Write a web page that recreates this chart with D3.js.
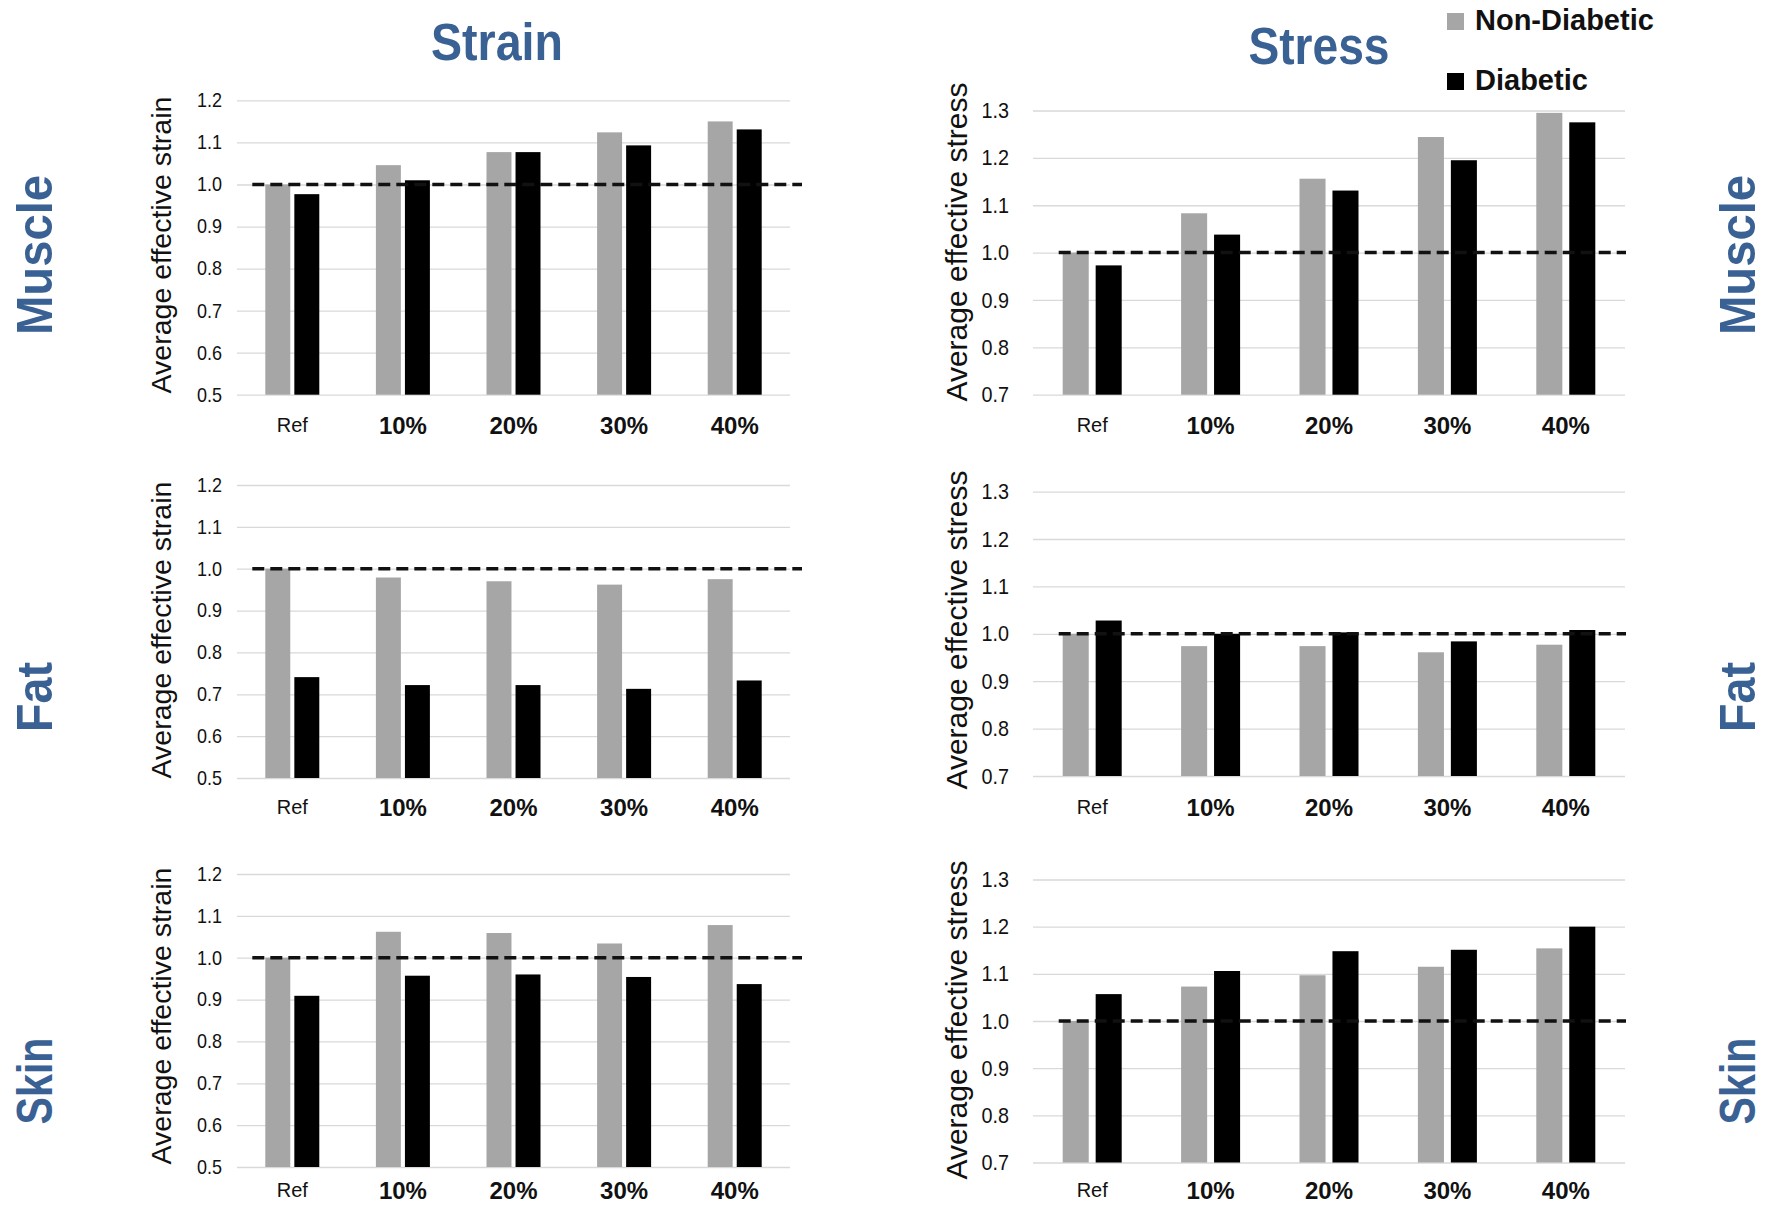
<!DOCTYPE html>
<html>
<head>
<meta charset="utf-8">
<script src="https://cdn.jsdelivr.net/npm/d3@7"></script>
<style>
  html, body { margin: 0; padding: 0; background: #fff; }
  svg { display: block; }
</style>
</head>
<body>
<svg id="chart" width="1768" height="1206"></svg>
<script>
// ---- data ----
const categories = ["Ref", "10%", "20%", "30%", "40%"];
const seriesNames = ["Non-Diabetic", "Diabetic"];
const tissues = ["Muscle", "Fat", "Skin"];
const measures = ["Strain", "Stress"];

const strainMuscleNonDiabetic = [1.000, 1.046, 1.077, 1.124, 1.150];
const strainMuscleDiabetic    = [0.977, 1.010, 1.077, 1.093, 1.131];
const strainFatNonDiabetic    = [1.000, 0.979, 0.970, 0.962, 0.975];
const strainFatDiabetic       = [0.741, 0.722, 0.722, 0.713, 0.733];
const strainSkinNonDiabetic   = [1.000, 1.062, 1.059, 1.034, 1.078];
const strainSkinDiabetic      = [0.909, 0.957, 0.960, 0.954, 0.937];

const stressMuscleNonDiabetic = [1.000, 1.083, 1.156, 1.244, 1.295];
const stressMuscleDiabetic    = [0.973, 1.038, 1.131, 1.195, 1.275];
const stressFatNonDiabetic    = [1.000, 0.974, 0.974, 0.961, 0.977];
const stressFatDiabetic       = [1.028, 1.000, 1.003, 0.984, 1.008];
const stressSkinNonDiabetic   = [1.000, 1.073, 1.097, 1.115, 1.154];
const stressSkinDiabetic      = [1.057, 1.106, 1.148, 1.151, 1.200];

const strainTicks = [0.5, 0.6, 0.7, 0.8, 0.9, 1.0, 1.1, 1.2];
const stressTicks = [0.7, 0.8, 0.9, 1.0, 1.1, 1.2, 1.3];
const referenceLevel = 1.0;

// ---- styling / layout ----
const titleBlue = "#3a6194";
const barColors = ["#a6a6a6", "#000000"];
const gridColor = "#d9d9d9";
const tickFont = "'Liberation Sans', Arial, sans-serif";
const headFont = "'Liberation Sans', Arial, sans-serif";

const columns = [
  {
    measure: "Strain", ticks: strainTicks, axisTitle: "Average effective strain",
    x0: 237, x1: 790, pairWidth: 54, innerPad: 0.14,
    dashLead: 13, dashTail: 12,
    tickLabelRight: 222, tickSize: 20, titleX: 161, titleSize: 28.5,
    rows: [
      { nd: strainMuscleNonDiabetic, d: strainMuscleDiabetic, top: 100.4, bottom: 394.7, catY: 425, titleY: 245 },
      { nd: strainFatNonDiabetic,    d: strainFatDiabetic,    top: 485,   bottom: 778,   catY: 807, titleY: 630 },
      { nd: strainSkinNonDiabetic,   d: strainSkinDiabetic,   top: 874,   bottom: 1167,  catY: 1190, titleY: 1016 }
    ]
  },
  {
    measure: "Stress", ticks: stressTicks, axisTitle: "Average effective stress",
    x0: 1033, x1: 1625, pairWidth: 59, innerPad: 0.21,
    dashLead: 4, dashTail: 1,
    tickLabelRight: 1009, tickSize: 22, titleX: 956, titleSize: 30,
    rows: [
      { nd: stressMuscleNonDiabetic, d: stressMuscleDiabetic, top: 110.5, bottom: 394.7, catY: 425, titleY: 242 },
      { nd: stressFatNonDiabetic,    d: stressFatDiabetic,    top: 491.6, bottom: 776,   catY: 807, titleY: 630 },
      { nd: stressSkinNonDiabetic,   d: stressSkinDiabetic,   top: 879.5, bottom: 1162.5, catY: 1190, titleY: 1020 }
    ]
  }
];

const svg = d3.select("#chart");

columns.forEach(col => {
  const n = categories.length;
  const step = (col.x1 - col.x0) / n;
  const pIn = 1 - col.pairWidth / step;
  const x = d3.scaleBand().domain(categories).range([col.x0, col.x1])
    .paddingInner(pIn).paddingOuter(pIn / 2);
  const xs = d3.scaleBand().domain(seriesNames).range([0, x.bandwidth()])
    .paddingInner(col.innerPad);

  col.rows.forEach(row => {
    const yMin = col.ticks[0], yMax = col.ticks[col.ticks.length - 1];
    const y = d3.scaleLinear().domain([yMin, yMax]).range([row.bottom, row.top]);
    const g = svg.append("g");

    // horizontal gridlines
    const grid = g.append("g")
      .attr("transform", `translate(${col.x0},0)`)
      .call(d3.axisLeft(y).tickValues(col.ticks).tickSize(-(col.x1 - col.x0)).tickFormat(""));
    grid.select(".domain").remove();
    grid.selectAll("line").attr("stroke", gridColor).attr("stroke-width", 1.3);

    // y tick labels, slightly condensed
    const yAxis = g.append("g")
      .attr("transform", `translate(${col.tickLabelRight},0)`)
      .call(d3.axisLeft(y).tickValues(col.ticks).tickSize(0).tickPadding(0).tickFormat(d3.format(".1f")));
    yAxis.select(".domain").remove();
    yAxis.selectAll("text")
      .attr("font-family", tickFont)
      .attr("font-size", col.tickSize)
      .attr("fill", "#111")
      .attr("transform", "scale(0.9,1)");

    // category labels
    const xAxis = g.append("g")
      .attr("transform", `translate(0,${row.bottom})`)
      .call(d3.axisBottom(x).tickSize(0));
    xAxis.select(".domain").remove();
    xAxis.selectAll("text")
      .attr("y", row.catY - row.bottom)
      .attr("dy", "0.36em")
      .attr("font-family", tickFont)
      .attr("font-size", d => d === "Ref" ? 20 : 24)
      .attr("font-weight", d => d === "Ref" ? "normal" : "bold")
      .attr("fill", "#111");

    // bars
    const data = categories.map((c, i) => ({ cat: c, values: [row.nd[i], row.d[i]] }));
    g.append("g").selectAll("g")
      .data(data).join("g")
      .attr("transform", d => `translate(${x(d.cat)},0)`)
      .selectAll("rect")
      .data(d => d.values.map((v, k) => ({ series: seriesNames[k], value: v, k })))
      .join("rect")
      .attr("x", d => xs(d.series))
      .attr("width", xs.bandwidth())
      .attr("y", d => y(d.value))
      .attr("height", d => y(yMin) - y(d.value))
      .attr("fill", d => barColors[d.k]);

    // dashed reference line at 1.0
    const dashStart = x(categories[0]) + xs(seriesNames[0]) - col.dashLead;
    const dashEnd = col.x1 + col.dashTail;
    g.append("line")
      .attr("x1", dashStart).attr("x2", dashEnd)
      .attr("y1", y(referenceLevel)).attr("y2", y(referenceLevel))
      .attr("stroke", "#111")
      .attr("stroke-width", 3.5)
      .attr("stroke-dasharray", "12,6");

    // y axis title
    svg.append("text")
      .attr("transform", `translate(${col.titleX},${row.titleY}) rotate(-90)`)
      .attr("text-anchor", "middle")
      .attr("dominant-baseline", "central")
      .attr("font-family", headFont)
      .attr("font-size", col.titleSize)
      .attr("fill", "#111")
      .text(col.axisTitle);
  });
});

// column headings
const headings = [
  { text: measures[0], x: 497, y: 60, len: 132 },
  { text: measures[1], x: 1319, y: 64, len: 141 }
];
svg.selectAll(".heading").data(headings).join("text")
  .attr("class", "heading")
  .attr("x", d => d.x).attr("y", d => d.y)
  .attr("text-anchor", "middle")
  .attr("font-family", headFont)
  .attr("font-weight", "bold")
  .attr("font-size", 51)
  .attr("fill", titleBlue)
  .attr("textLength", d => d.len)
  .attr("lengthAdjust", "spacingAndGlyphs")
  .text(d => d.text);

// tissue labels on both sides
const tissueRows = [
  { name: tissues[0], cy: 255, len: 160 },
  { name: tissues[1], cy: 697, len: 70 },
  { name: tissues[2], cy: 1081, len: 87 }
];
[52, 1755].forEach(bx => {
  svg.append("g").selectAll("text").data(tissueRows).join("text")
    .attr("transform", d => `translate(${bx},${d.cy}) rotate(-90)`)
    .attr("text-anchor", "middle")
    .attr("font-family", headFont)
    .attr("font-weight", "bold")
    .attr("font-size", 50)
    .attr("fill", titleBlue)
    .attr("textLength", d => d.len)
    .attr("lengthAdjust", "spacingAndGlyphs")
    .text(d => d.name);
});

// legend
const legend = svg.append("g").attr("transform", "translate(1447,0)");
const legendRows = seriesNames.map((s, i) => ({ name: s, color: barColors[i], top: 13 + i * 60 }));
legend.selectAll("rect").data(legendRows).join("rect")
  .attr("x", 0).attr("y", d => d.top)
  .attr("width", 17).attr("height", 17)
  .attr("fill", d => d.color);
legend.selectAll("text").data(legendRows).join("text")
  .attr("x", 28).attr("y", d => d.top + 17)
  .attr("font-family", "'Liberation Sans', sans-serif")
  .attr("font-weight", "bold")
  .attr("font-size", 29)
  .attr("fill", "#111")
  .text(d => d.name);
</script>
</body>
</html>
